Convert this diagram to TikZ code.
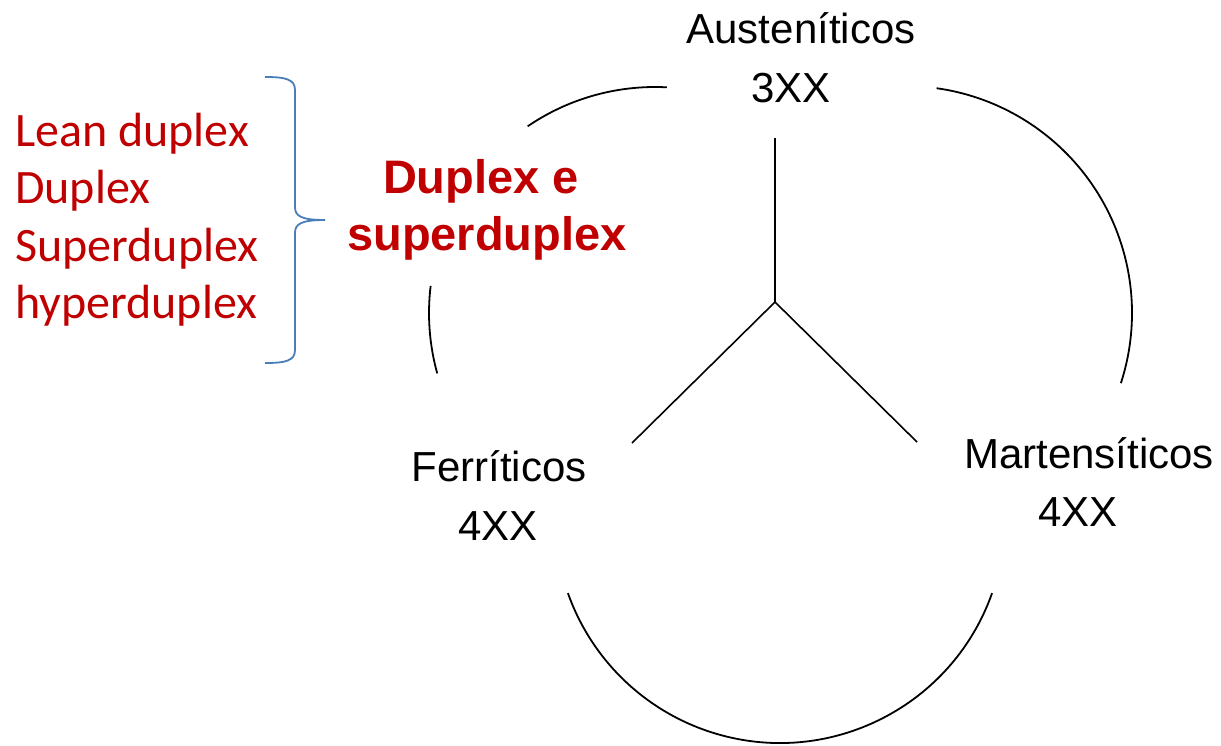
\documentclass[tikz,border=0pt]{standalone}
\usepackage{fontspec}
\setmainfont{Liberation Sans}
\newfontfamily\calibrifont{Carlito}
\definecolor{dred}{RGB}{192,0,0}
\definecolor{braceblue}{RGB}{74,126,187}
\begin{document}
\begin{tikzpicture}[x=1pt,y=-1pt,
  lbl/.style={font=\fontsize{42}{50}\selectfont, text=black, inner sep=0pt, anchor=base},
  item/.style={font=\calibrifont\fontsize{48}{56}\selectfont, text=dred, inner sep=0pt, anchor=base west},
  titletext/.style={font=\bfseries\fontsize{47}{57}\selectfont, text=dred, inner sep=0pt, anchor=base},
  ring/.style={line width=1.8pt, draw=black},
  spoke/.style={line width=1.6pt, draw=black},
  bracestyle/.style={line width=1.8pt, draw=braceblue}]
\useasboundingbox (0,0) rectangle (1221,745);
% circle centres
\coordinate (CL) at (655,313);
\coordinate (CR) at (905,313);
\coordinate (CB) at (780,518);
% arcs
\draw[ring] (CR) ++(-82:227) arc[start angle=-82, end angle=18, radius=227];
\draw[ring] (CL) ++(235.7:226) arc[start angle=235.7, end angle=273, radius=226];
\draw[ring] (CL) ++(164.5:226) arc[start angle=164.5, end angle=186.9, radius=226];
\draw[ring] (CB) ++(19.5:225) arc[start angle=19.5, end angle=160.5, radius=225];
% spokes
\coordinate (J) at (775,302);
\coordinate (Ytop) at (775,138);
\coordinate (Yl) at (632,443);
\coordinate (Yr) at (917,442);
\draw[spoke] (Ytop) -- (J);
\draw[spoke] (J) -- (Yl);
\draw[spoke] (J) -- (Yr);
% labels
\node[lbl] (aus) at (801,43) {Austeníticos};
\node[lbl] (aus3) at (791,102) {3XX};
\node[lbl] (fer) at (499,481) {Ferríticos};
\node[lbl] (fer4) at (498,540) {4XX};
\node[lbl] (mar) at (1089,468) {Martensíticos};
\node[lbl] (mar4) at (1078,526) {4XX};
\node[titletext] (dup1) at (481,193) {Duplex e};
\node[titletext] (dup2) at (487,250) {superduplex};
% list
\node[item] (lean) at (15,146) {Lean duplex};
\node[item] (dplx) at (15,203) {Duplex};
\node[item] (sdplx) at (15,261) {Superduplex};
\node[item] (hdplx) at (15,318) {hyperduplex};
% brace
\coordinate (btop) at (265,77);
\coordinate (btip) at (325,220);
\coordinate (bbot) at (265,363);
\draw[bracestyle] (btop) .. controls (285,77) and (295,79) .. (295,90) -- (295,207)
  .. controls (295,216) and (301,220) .. (btip)
  .. controls (301,220) and (295,224) .. (295,233) -- (295,350)
  .. controls (295,361) and (285,363) .. (bbot);
\end{tikzpicture}
\end{document}
